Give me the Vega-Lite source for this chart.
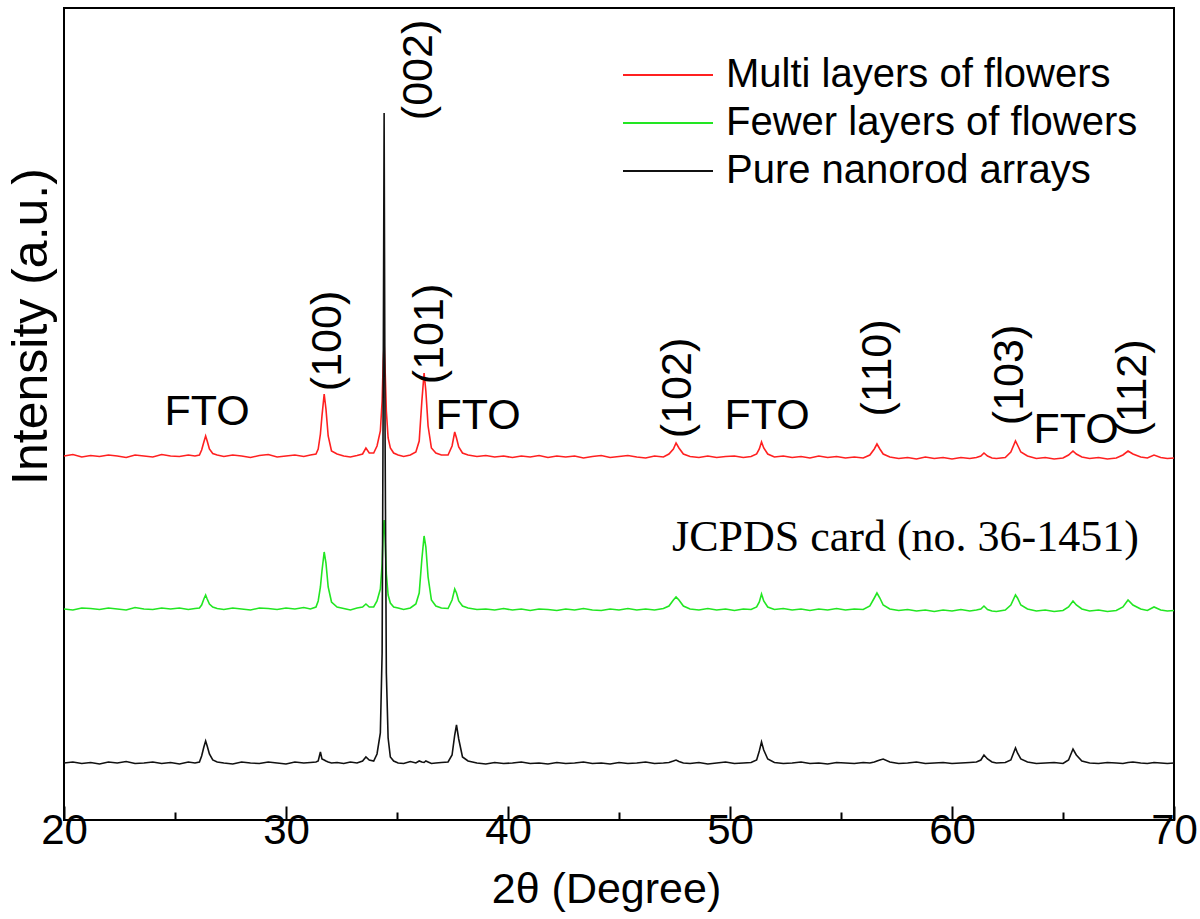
{
  "$schema": "https://vega.github.io/schema/vega-lite/v6.json",
  "width": 1110,
  "height": 812,
  "autosize": {"type": "none"},
  "padding": {"left": 64, "top": 8, "right": 26, "bottom": 99},
  "background": "white",
  "config": {"view": {"stroke": "black", "strokeWidth": 2}, "font": "Liberation Sans"},
  "datasets": {
    "xrd": [
      {"x":20.0,"m":364,"f":211,"p":57},{"x":20.4,"m":365.5,"f":210,"p":58},{"x":20.8,"m":363,"f":212,"p":56.5},{"x":21.2,"m":364.5,"f":211.5,"p":57.5},
      {"x":21.6,"m":363.5,"f":210.5,"p":56},{"x":22.0,"m":365,"f":212,"p":58},{"x":22.4,"m":364,"f":211,"p":57},{"x":22.8,"m":362.5,"f":210,"p":58.5},
      {"x":23.2,"m":365,"f":212.5,"p":56.5},{"x":23.6,"m":364,"f":211,"p":57},{"x":24.0,"m":363,"f":210.5,"p":58},{"x":24.4,"m":365.5,"f":212,"p":56.5},
      {"x":24.8,"m":364,"f":211,"p":57.5},{"x":25.2,"m":363.5,"f":212,"p":56},{"x":25.6,"m":365,"f":210.5,"p":58},{"x":25.9,"m":364,"f":211.5,"p":57},
      {"x":26.1,"m":365,"f":212,"p":58},{"x":26.2,"m":370,"f":215,"p":64},{"x":26.3,"m":378,"f":221,"p":73},{"x":26.38,"m":384,"f":225,"p":79},
      {"x":26.45,"m":379,"f":221,"p":74},{"x":26.55,"m":371,"f":216,"p":66},{"x":26.7,"m":366.5,"f":213,"p":60},{"x":26.9,"m":365,"f":211.5,"p":58},
      {"x":27.2,"m":363.5,"f":210.5,"p":57},{"x":27.6,"m":365,"f":212,"p":56},{"x":28.0,"m":364,"f":211,"p":58},{"x":28.4,"m":362.5,"f":210,"p":57},
      {"x":28.8,"m":364.5,"f":212,"p":56.5},{"x":29.2,"m":365.5,"f":211.5,"p":58},{"x":29.6,"m":363,"f":210.5,"p":57},{"x":30.0,"m":364,"f":212,"p":56},
      {"x":30.4,"m":365,"f":211,"p":58},{"x":30.8,"m":363.5,"f":212.5,"p":57},{"x":31.1,"m":365,"f":211,"p":57.5},{"x":31.35,"m":366,"f":213,"p":58},
      {"x":31.45,"m":371,"f":219,"p":59},{"x":31.55,"m":386,"f":233,"p":68},{"x":31.62,"m":404,"f":249,"p":61},{"x":31.72,"m":426,"f":268,"p":60},
      {"x":31.8,"m":411,"f":257,"p":59},{"x":31.9,"m":384,"f":233,"p":58},{"x":32.05,"m":369,"f":218,"p":57},{"x":32.3,"m":366,"f":213,"p":57.5},
      {"x":32.6,"m":364,"f":211.5,"p":56.5},{"x":32.9,"m":363,"f":210,"p":58},{"x":33.2,"m":364.5,"f":212,"p":57},{"x":33.45,"m":366,"f":213,"p":59},
      {"x":33.6,"m":372,"f":216,"p":63},{"x":33.75,"m":367,"f":213,"p":60},{"x":33.95,"m":367,"f":213,"p":59},{"x":34.1,"m":374,"f":219,"p":66},
      {"x":34.25,"m":389,"f":231,"p":87},{"x":34.33,"m":419,"f":256,"p":167},{"x":34.38,"m":459,"f":289,"p":437},{"x":34.42,"m":477,"f":300,"p":707},
      {"x":34.46,"m":454,"f":283,"p":397},{"x":34.52,"m":409,"f":246,"p":147},{"x":34.6,"m":382,"f":225,"p":82},{"x":34.7,"m":372,"f":217,"p":63},
      {"x":34.85,"m":367,"f":213,"p":59},{"x":35.05,"m":365,"f":212,"p":57},{"x":35.3,"m":363.5,"f":210.5,"p":56.5},{"x":35.6,"m":365,"f":212,"p":58.5},
      {"x":35.85,"m":368,"f":216,"p":57},{"x":36.0,"m":379,"f":227,"p":59},{"x":36.12,"m":419,"f":261,"p":58},{"x":36.22,"m":447,"f":284,"p":57.5},
      {"x":36.3,"m":429,"f":273,"p":59},{"x":36.4,"m":394,"f":243,"p":58},{"x":36.55,"m":372,"f":220,"p":56.5},{"x":36.75,"m":367,"f":214,"p":57},
      {"x":37.0,"m":365,"f":212,"p":57.5},{"x":37.3,"m":365,"f":211.5,"p":58},{"x":37.48,"m":374,"f":220,"p":65},{"x":37.6,"m":388,"f":231,"p":85},
      {"x":37.68,"m":382,"f":227,"p":95},{"x":37.78,"m":373,"f":219,"p":81},{"x":37.95,"m":367,"f":214,"p":63},{"x":38.2,"m":365,"f":212,"p":59},
      {"x":38.6,"m":363.5,"f":210.5,"p":57},{"x":39.0,"m":364.5,"f":211,"p":56},{"x":39.4,"m":363,"f":210,"p":57.5},{"x":39.8,"m":364,"f":211.5,"p":56.5},
      {"x":40.2,"m":362.5,"f":210,"p":57},{"x":40.6,"m":364,"f":211,"p":58},{"x":41.0,"m":363,"f":209.5,"p":56.5},{"x":41.4,"m":364.5,"f":211,"p":57},
      {"x":41.8,"m":362.5,"f":210.5,"p":56},{"x":42.2,"m":364,"f":209.5,"p":57.5},{"x":42.6,"m":363,"f":211,"p":56.5},{"x":43.0,"m":364,"f":210,"p":57},
      {"x":43.4,"m":362,"f":211.5,"p":58},{"x":43.8,"m":363.5,"f":210,"p":56.5},{"x":44.2,"m":364.5,"f":209.5,"p":57},{"x":44.6,"m":362.5,"f":211,"p":56},
      {"x":45.0,"m":363.5,"f":210,"p":57.5},{"x":45.4,"m":364.5,"f":211.5,"p":56.5},{"x":45.8,"m":363,"f":210,"p":57},{"x":46.2,"m":362,"f":211,"p":58},
      {"x":46.6,"m":364,"f":210,"p":56.5},{"x":47.0,"m":363,"f":211.5,"p":57},{"x":47.25,"m":366,"f":214,"p":57.5},{"x":47.45,"m":371,"f":220,"p":59},
      {"x":47.57,"m":377,"f":223,"p":60},{"x":47.7,"m":372,"f":220,"p":58.5},{"x":47.9,"m":366,"f":214,"p":57},{"x":48.2,"m":363.5,"f":211,"p":56.5},
      {"x":48.6,"m":362.5,"f":210,"p":57.5},{"x":49.0,"m":364,"f":211.5,"p":56},{"x":49.4,"m":362.5,"f":210,"p":57},{"x":49.8,"m":363.5,"f":211,"p":58},
      {"x":50.2,"m":364,"f":209.5,"p":56.5},{"x":50.6,"m":362.5,"f":211,"p":57},{"x":50.95,"m":363.5,"f":210.5,"p":57.5},{"x":51.2,"m":366,"f":213,"p":60},
      {"x":51.32,"m":371,"f":218,"p":69},{"x":51.42,"m":378,"f":226,"p":78},{"x":51.52,"m":372,"f":219,"p":70},{"x":51.7,"m":366,"f":213,"p":61},
      {"x":52.0,"m":363,"f":210.5,"p":57.5},{"x":52.4,"m":364,"f":211.5,"p":56.5},{"x":52.8,"m":362.5,"f":210,"p":57},{"x":53.2,"m":363.5,"f":211,"p":58},
      {"x":53.6,"m":362,"f":209.5,"p":56.5},{"x":54.0,"m":364,"f":211,"p":57},{"x":54.4,"m":362.5,"f":210,"p":56},{"x":54.8,"m":363.5,"f":211.5,"p":57.5},
      {"x":55.2,"m":362,"f":210,"p":57},{"x":55.6,"m":363,"f":211,"p":56.5},{"x":56.0,"m":362,"f":210.5,"p":57.5},{"x":56.3,"m":365,"f":214,"p":57},
      {"x":56.5,"m":371,"f":222,"p":58},{"x":56.62,"m":376,"f":227,"p":59},{"x":56.75,"m":371,"f":222,"p":60},{"x":56.9,"m":366,"f":215,"p":61},
      {"x":57.2,"m":363,"f":211,"p":58},{"x":57.6,"m":361.5,"f":209.5,"p":56.5},{"x":58.0,"m":362.5,"f":210.5,"p":57},{"x":58.4,"m":361,"f":209,"p":58},
      {"x":58.8,"m":363,"f":210,"p":56.5},{"x":59.2,"m":361.5,"f":208.5,"p":57},{"x":59.6,"m":362.5,"f":210,"p":57.5},{"x":60.0,"m":361,"f":209,"p":56.5},
      {"x":60.4,"m":362.5,"f":210.5,"p":57},{"x":60.8,"m":361.5,"f":209,"p":57.5},{"x":61.1,"m":362.5,"f":210,"p":58},{"x":61.3,"m":364,"f":211,"p":60},
      {"x":61.44,"m":367,"f":214,"p":65},{"x":61.6,"m":364,"f":210.5,"p":61},{"x":61.8,"m":362,"f":209,"p":58},{"x":62.0,"m":361.5,"f":208.5,"p":57},
      {"x":62.4,"m":362.5,"f":210,"p":57.5},{"x":62.65,"m":368,"f":215,"p":60},{"x":62.86,"m":379,"f":225,"p":72},{"x":62.95,"m":375,"f":222,"p":67},
      {"x":63.1,"m":368,"f":215,"p":61},{"x":63.4,"m":364,"f":211,"p":58},{"x":63.8,"m":361.5,"f":209,"p":56.5},{"x":64.2,"m":362.5,"f":210,"p":57},
      {"x":64.6,"m":361,"f":208.5,"p":57.5},{"x":65.0,"m":362,"f":209.5,"p":56.5},{"x":65.25,"m":365,"f":213,"p":60},{"x":65.45,"m":369,"f":219,"p":71},
      {"x":65.6,"m":366,"f":215,"p":65},{"x":65.85,"m":363,"f":211,"p":59},{"x":66.2,"m":361.5,"f":209,"p":57},{"x":66.6,"m":362.5,"f":210,"p":56.5},
      {"x":67.0,"m":361,"f":208.5,"p":57.5},{"x":67.4,"m":362,"f":209.5,"p":57},{"x":67.7,"m":365,"f":213,"p":56.5},{"x":67.93,"m":369,"f":220,"p":57.5},
      {"x":68.15,"m":366,"f":215,"p":58},{"x":68.5,"m":363,"f":211,"p":57},{"x":68.8,"m":362,"f":209.5,"p":56.5},{"x":69.1,"m":365,"f":213,"p":57.5},
      {"x":69.4,"m":362.5,"f":210,"p":57},{"x":69.7,"m":361.5,"f":209,"p":56.5},{"x":70.0,"m":362,"f":209.5,"p":57}
    ],
    "planes": [
      {"x":31.89,"y":479,"label":"(100)"},
      {"x":35.99,"y":750,"label":"(002)"},
      {"x":36.5,"y":486,"label":"(101)"},
      {"x":47.66,"y":432,"label":"(102)"},
      {"x":56.67,"y":452,"label":"(110)"},
      {"x":62.61,"y":445,"label":"(103)"},
      {"x":68.15,"y":432,"label":"(112)"}
    ],
    "fto": [
      {"x":26.45,"y":408,"label":"FTO"},
      {"x":38.65,"y":404,"label":"FTO"},
      {"x":51.67,"y":404,"label":"FTO"},
      {"x":65.59,"y":390,"label":"FTO"}
    ],
    "card": [
      {"x":47.39,"y":282,"label":"JCPDS card (no. 36-1451)"}
    ]
  },
  "layer": [
    {
      "data": {"name": "xrd"},
      "transform": [{"fold": ["m", "f", "p"], "as": ["series", "intensity"]}],
      "mark": {"type": "line", "strokeWidth": 1.6},
      "encoding": {
        "x": {
          "field": "x", "type": "quantitative",
          "scale": {"domain": [20, 70], "nice": false, "zero": false},
          "axis": {
            "orient": "bottom", "values": [20, 30, 40, 50, 60, 70], "format": "d",
            "tickSize": -14, "tickWidth": 2, "tickColor": "black",
            "domain": false, "grid": false,
            "labelFontSize": 42, "labelColor": "black", "labelPadding": 4,
            "labelFlush": false, "labelOverlap": false, "labelBound": false,
            "title": "2θ (Degree)", "titleFontSize": 43, "titleFontWeight": "normal",
            "titleColor": "black", "titleX": 542, "titleY": 82, "titleBaseline": "alphabetic"
          }
        },
        "y": {
          "field": "intensity", "type": "quantitative",
          "scale": {"domain": [0, 812], "nice": false, "zero": false},
          "axis": {
            "ticks": false, "labels": false, "grid": false, "domain": false,
            "title": "Intensity (a.u.)", "titleFontSize": 50, "titleFontWeight": "normal",
            "titleColor": "black", "titlePadding": 8, "titleY": 318
          }
        },
        "color": {
          "field": "series", "type": "nominal",
          "scale": {"domain": ["m", "f", "p"], "range": ["#ff2020", "#22e622", "#111111"]},
          "legend": {
            "orient": "none", "legendX": 584, "legendY": 47, "title": null,
            "symbolType": "M-4.5,0H4.5", "symbolSize": 400, "symbolStrokeWidth": 2,
            "labelFontSize": 40, "labelOffset": 38, "labelColor": "black", "labelLimit": 0,
            "rowPadding": 8, "padding": 0,
            "labelExpr": "datum.label == 'm' ? 'Multi layers of flowers' : datum.label == 'f' ? 'Fewer layers of flowers' : 'Pure nanorod arrays'"
          }
        }
      }
    },
    {
      "data": {"name": "planes"},
      "mark": {"type": "text", "angle": 270, "fontSize": 43, "font": "Liberation Sans", "color": "black", "align": "center", "baseline": "middle"},
      "encoding": {
        "x": {
          "field": "x", "type": "quantitative",
          "axis": {
            "orient": "bottom", "values": [25, 35, 45, 55, 65],
            "tickSize": -8, "tickWidth": 2, "tickColor": "black",
            "labels": false, "domain": false, "grid": false, "title": null
          }
        },
        "y": {"field": "y", "type": "quantitative"},
        "text": {"field": "label"}
      }
    },
    {
      "data": {"name": "fto"},
      "mark": {"type": "text", "fontSize": 43, "font": "Liberation Sans", "color": "black", "align": "center", "baseline": "middle"},
      "encoding": {
        "x": {"field": "x", "type": "quantitative", "axis": null},
        "y": {"field": "y", "type": "quantitative"},
        "text": {"field": "label"}
      }
    },
    {
      "data": {"name": "card"},
      "mark": {"type": "text", "fontSize": 44, "font": "Liberation Serif", "color": "black", "align": "left", "baseline": "middle"},
      "encoding": {
        "x": {"field": "x", "type": "quantitative", "axis": null},
        "y": {"field": "y", "type": "quantitative"},
        "text": {"field": "label"}
      }
    }
  ],
  "resolve": {"axis": {"x": "independent"}}
}
